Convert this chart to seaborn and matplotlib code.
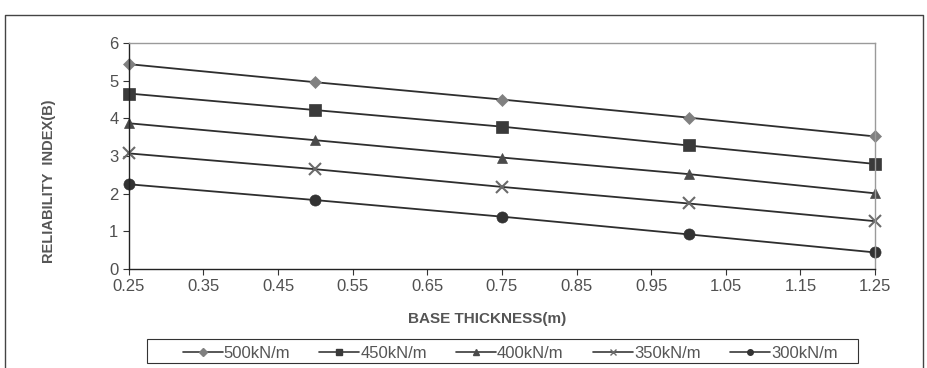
import pandas as pd
import seaborn as sns
import matplotlib.pyplot as plt
from matplotlib.lines import Line2D
from matplotlib.patches import Rectangle

# values
thickness = [0.25, 0.5, 0.75, 1.0, 1.25]
beta_500 = [5.44, 4.96, 4.50, 4.02, 3.52]
beta_450 = [4.66, 4.22, 3.78, 3.28, 2.79]
beta_400 = [3.87, 3.42, 2.96, 2.52, 2.01]
beta_350 = [3.07, 2.65, 2.18, 1.74, 1.27]
beta_300 = [2.25, 1.83, 1.39, 0.92, 0.44]
series_names = ["500kN/m", "450kN/m", "400kN/m", "350kN/m", "300kN/m"]

rows = []
for name, vals in zip(series_names, [beta_500, beta_450, beta_400, beta_350, beta_300]):
    for t, b in zip(thickness, vals):
        rows.append({"thickness": t, "beta": b, "load": name})
df = pd.DataFrame(rows)

sns.set_theme(style="white")
plt.rcParams['font.family'] = ['Liberation Sans', 'DejaVu Sans']

markers = {"500kN/m": "D", "450kN/m": "s", "400kN/m": "^", "350kN/m": "x", "300kN/m": "o"}
mcolors = {"500kN/m": "#808080", "450kN/m": "#3a3a3a", "400kN/m": "#4a4a4a",
           "350kN/m": "#6a6a6a", "300kN/m": "#333333"}
msizes = {"500kN/m": 6, "450kN/m": 8, "400kN/m": 7, "350kN/m": 8, "300kN/m": 8}

fig = plt.figure(figsize=(9.27, 3.68), dpi=100)
ax = fig.add_axes([0.139, 0.269, 0.805, 0.614])

for name in series_names:
    sub = df[df["load"] == name]
    sns.lineplot(data=sub, x="thickness", y="beta", ax=ax, color="#2e2e2e",
                 linewidth=1.3, marker=markers[name], markersize=msizes[name],
                 markerfacecolor=mcolors[name], markeredgecolor=mcolors[name],
                 markeredgewidth=1.5 if name == "350kN/m" else 0.5,
                 clip_on=False, legend=False)

ax.set_xlim(0.25, 1.25)
ax.set_ylim(0, 6)
ax.set_xticks([0.25, 0.35, 0.45, 0.55, 0.65, 0.75, 0.85, 0.95, 1.05, 1.15, 1.25])
ax.set_xticklabels(["0.25", "0.35", "0.45", "0.55", "0.65", "0.75", "0.85",
                    "0.95", "1.05", "1.15", "1.25"])
ax.set_yticks(range(0, 7))
ax.tick_params(axis="both", labelsize=12, labelcolor="#505050", direction="out",
               length=4, width=0.8, color="#333333", bottom=True, left=True)
ax.spines["left"].set_color("#222222")
ax.spines["bottom"].set_color("#222222")
ax.spines["top"].set_color("#9a9a9a")
ax.spines["right"].set_color("#9a9a9a")
for s in ax.spines.values():
    s.set_linewidth(1.0)

ax.set_xlabel("BASE THICKNESS(m)", fontsize=11, fontweight="bold", color="#555555")
ax.set_ylabel("RELIABILITY  INDEX(B)", fontsize=10.5, fontweight="bold", color="#555555")
ax.xaxis.set_label_coords(0.48, -0.19)
ax.yaxis.set_label_coords(-0.098, 0.39)

# legend: entries spread inside a plain box
handles = []
for name in series_names:
    handles.append(Line2D([0], [0], color="#3a3a3a", linewidth=1.2, marker=markers[name],
                          markersize=4, markerfacecolor=mcolors[name],
                          markeredgecolor=mcolors[name], label=name))
leg = fig.legend(handles=handles, loc="lower left",
                 bbox_to_anchor=(180 / 927, 1 - 363 / 368, 660 / 927, 24 / 368),
                 mode="expand", ncol=5, fontsize=12, frameon=False,
                 handlelength=2.4, handletextpad=0.05, borderpad=0.15, borderaxespad=0,
                 columnspacing=2.0)
for t in leg.get_texts():
    t.set_color("#555555")
fig.add_artist(Rectangle((147 / 927, 1 - 363 / 368), 711 / 927, 24 / 368,
                         transform=fig.transFigure, fill=False,
                         edgecolor="#333333", linewidth=0.8))

# outer chart border (bottom runs off the image)
border_x = [5 / 927, 5 / 927, 923 / 927, 923 / 927]
border_y = [-0.05, 1 - 15 / 368, 1 - 15 / 368, -0.05]
fig.add_artist(Line2D(border_x, border_y, color="#444444", linewidth=1.0, transform=fig.transFigure))

fig.savefig("out.png", dpi=100)
